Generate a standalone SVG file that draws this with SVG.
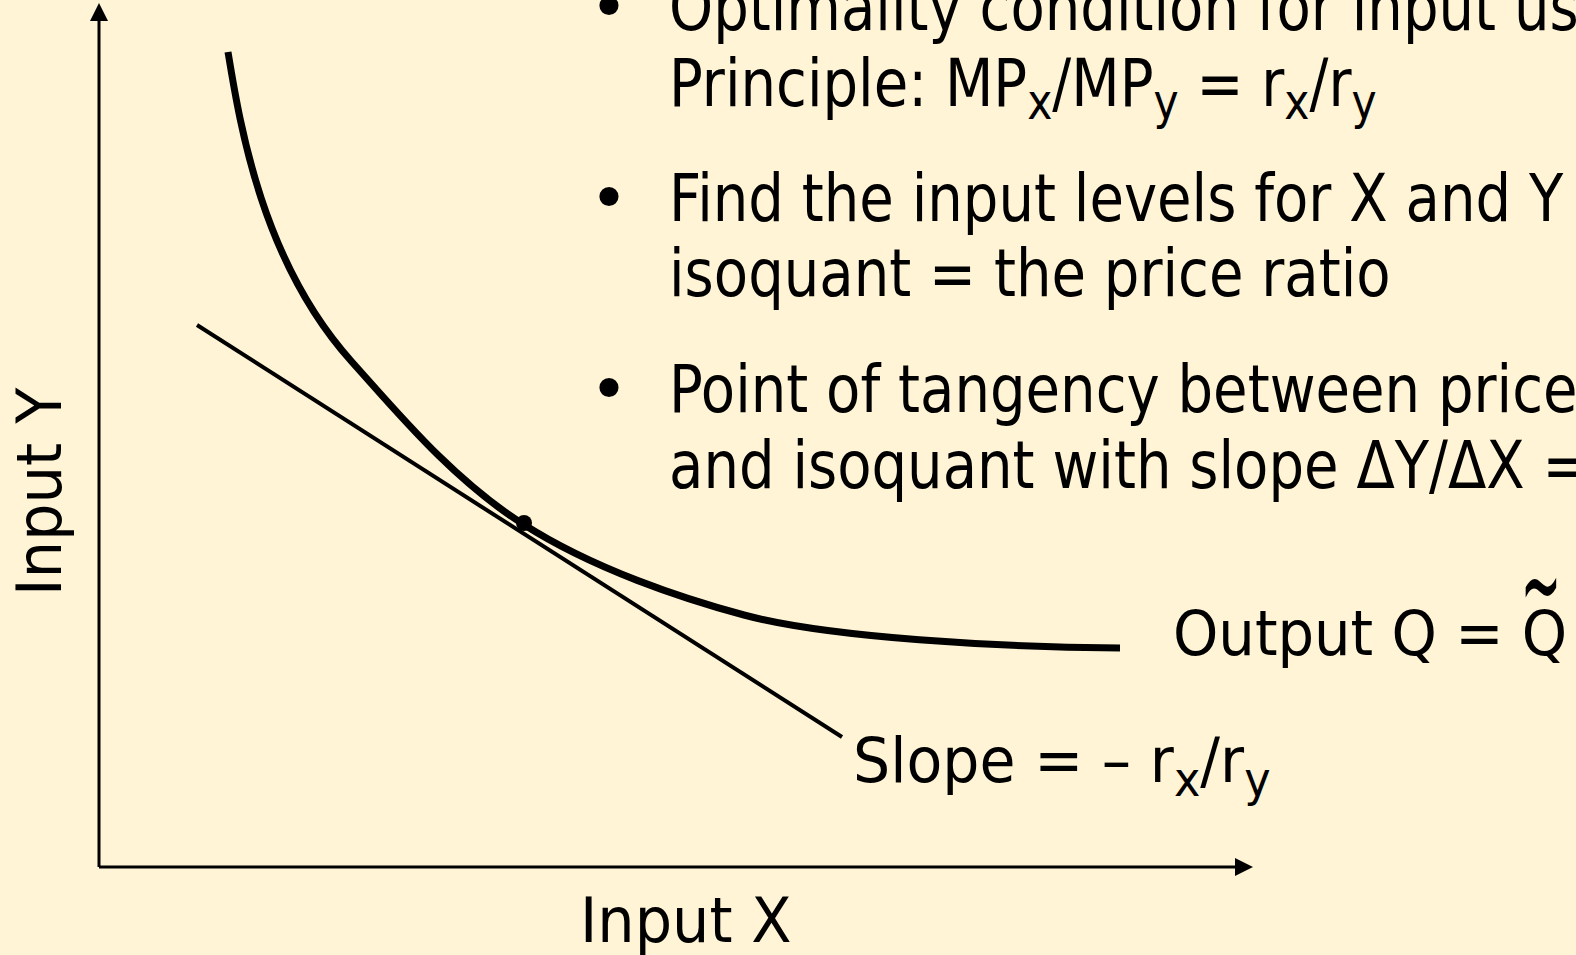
<svg xmlns="http://www.w3.org/2000/svg" width="1576" height="955" viewBox="0 0 1576 955">
<style>
.t{font-family:"DejaVu Sans","Liberation Sans",sans-serif;fill:#000}
.lbl{font-size:63px}
.bul{font-size:66px}
.sub{font-size:50px}
.subl{font-size:48px}
.ax{stroke:#000;stroke-width:3;fill:none}
.head{fill:#000}
</style>
<rect width="1576" height="955" fill="#FFF4D6"/>
<g id="connectors">
<line id="y-axis" class="ax" x1="99" y1="867" x2="99" y2="18"/>
<path class="head" d="M99,3 L108,21 L90,21 Z"/>
<line id="x-axis" class="ax" x1="99" y1="867" x2="1238" y2="867"/>
<path class="head" d="M1253,867 L1235,858 L1235,876 Z"/>
<line id="price-line" x1="197" y1="325" x2="842" y2="737" stroke="#000" stroke-width="4"/>
</g>
<g id="isoquant">
<path d="M228,52 C240,125 262,262 352,362 C397,412 453,480 523,524 C593,569 684,599 744,615 C830,638 1000,647 1120,648" fill="none" stroke="#000" stroke-width="7"/>
<circle cx="524" cy="523" r="8" fill="#000"/>
</g>
<g id="label-input-x" transform="translate(580 942) scale(0.935 1)"><text class="t lbl" x="0" y="0">Input X</text></g>
<g id="label-input-y" transform="translate(61 596) rotate(-90) scale(0.94 1)"><text class="t lbl" x="0" y="0">Input Y</text></g>
<g id="label-output">
<g transform="translate(1173 655) scale(0.915 1)"><text class="t lbl" x="0" y="0">Output Q = Q</text></g>
<g transform="translate(1541 624) scale(0.84 2)"><text class="t" font-size="58" x="0" y="0" text-anchor="middle">~</text></g>
</g>
<g id="label-slope" transform="translate(853 782) scale(0.93 1)"><text class="t lbl" x="0" y="0">Slope = – r<tspan class="subl" dy="14">x</tspan><tspan dy="-14">/r</tspan><tspan class="subl" dy="14">y</tspan></text></g>
<g id="bullets">
<text class="t bul" x="609" y="221" text-anchor="middle">•</text>
<text class="t bul" x="609" y="412" text-anchor="middle">•</text>
<text class="t bul" x="609" y="30" text-anchor="middle">•</text>
<g transform="translate(669 0) scale(0.85 1)">
<text class="t bul" x="0" y="30">Optimality condition for input us</text>
<text class="t bul" x="0" y="106">Principle: MP<tspan class="sub" dy="13">x</tspan><tspan dy="-13">/MP</tspan><tspan class="sub" dy="13">y</tspan><tspan dy="-13"> = r</tspan><tspan class="sub" dy="13">x</tspan><tspan dy="-13">/r</tspan><tspan class="sub" dy="13">y</tspan></text>
<text class="t bul" x="0" y="221">Find the input levels for X and Y</text>
<text class="t bul" x="0" y="296">isoquant = the price ratio</text>
<text class="t bul" x="0" y="412">Point of tangency between price</text>
<text class="t bul" x="0" y="488">and isoquant with slope ΔY/ΔX =</text>
</g>
</g>
</svg>
